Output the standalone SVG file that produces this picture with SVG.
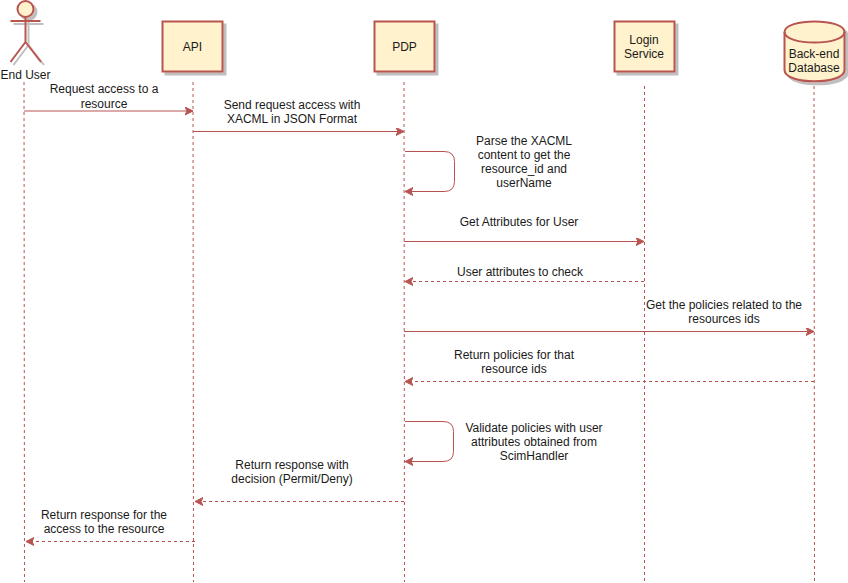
<svg xmlns="http://www.w3.org/2000/svg" width="848" height="583" viewBox="0 0 848 583">
<defs>
<marker id="ah" markerUnits="userSpaceOnUse" markerWidth="10" markerHeight="10" refX="8" refY="4" orient="auto"><path d="M0 0L8 4L0 8L2 4Z" fill="#b85450" stroke="#b85450"/></marker>
<filter id="sh" x="-10%" y="-10%" width="125%" height="125%"><feDropShadow dx="3" dy="3" stdDeviation="0.6" flood-color="#000" flood-opacity="0.25"/></filter>
</defs>
<style>
text{font-family:"Liberation Sans",Arial,sans-serif;font-size:12px;fill:#1a1a1a;text-anchor:middle}
.box{fill:#fff2cc;stroke:#b85450;stroke-width:2}
.life{fill:none;stroke:#b85450;stroke-width:1;stroke-dasharray:3 3}
.m{fill:none;stroke:#b85450;stroke-width:1;marker-end:url(#ah)}
.d{stroke-dasharray:3 3}
</style>
<rect width="848" height="583" fill="#fff"/>
<g id="connectors">
<path class="life" d="M24 82L24.500 582"/><path class="life" d="M193 82L193.500 582"/><path class="life" d="M404 82L404.500 582"/><path class="life" d="M644.500 86V582"/><path class="life" d="M814 86L814.500 582"/>
<path class="m" d="M24 111H193"/>
<path class="m" d="M193 131.500H404"/>
<path class="m" d="M405 151.500H444Q454.500 151.500 454.500 161.500V181.500Q454.500 191.500 444 191.500H405"/>
<path class="m" d="M404 241.500H644"/>
<path class="m d" d="M644 281.500H405"/>
<path class="m" d="M404 331.500H814"/>
<path class="m d" d="M814 381.500H405"/>
<path class="m" d="M405 421.500H443Q453.500 421.500 453.500 431.500V451.500Q453.500 461.500 443 461.500H405"/>
<path class="m d" d="M404 501.500H195"/>
<path class="m d" d="M195 541.500H26"/>
</g>
<g id="end-user">
<g filter="url(#sh)" fill="none" stroke="#b85450" stroke-width="2">
<circle cx="25.500" cy="9" r="8" fill="#fff2cc"/>
<path d="M25.500 17V42M10.500 21H40.500M25.500 42L10.500 62M25.500 42L41 62"/>
</g>
<text x="25.500" y="79">End User</text>
</g>
<g id="api"><rect class="box" x="162.500" y="21.500" width="60" height="50" filter="url(#sh)"/><text x="192.500" y="51">API</text></g>
<g id="pdp"><rect class="box" x="374.500" y="21.500" width="60" height="50" filter="url(#sh)"/><text x="404.500" y="51">PDP</text></g>
<g id="login-service"><rect class="box" x="614.500" y="21.500" width="60" height="50" filter="url(#sh)"/><text x="644" y="44">Login</text><text x="644" y="58">Service</text></g>
<g id="database">
<path class="box" d="M784.500 32C784.500 18 844.500 18 844.500 32V70C844.500 85 784.500 85 784.500 70Z" filter="url(#sh)"/>
<path d="M784.500 32C784.500 46 844.500 46 844.500 32" fill="none" stroke="#b85450" stroke-width="2"/>
<text x="814" y="58">Back-end</text><text x="814" y="72">Database</text>
</g>
<g id="labels">
<text x="104" y="93">Request access to a</text><text x="104" y="108">resource</text>
<text x="292" y="109">Send request access with</text><text x="292" y="123">XACML in JSON Format</text>
<text x="524" y="145">Parse the XACML</text><text x="524" y="159">content to get the</text><text x="524" y="173">resource_id and</text><text x="524" y="187">userName</text>
<text x="519" y="226">Get Attributes for User</text>
<text x="520" y="276">User attributes to check</text>
<text x="724" y="309">Get the policies related to the</text><text x="724" y="323">resources ids</text>
<text x="514" y="359">Return policies for that</text><text x="514" y="373">resource ids</text>
<text x="534" y="432">Validate policies with user</text><text x="534" y="446">attributes obtained from</text><text x="534" y="460">ScimHandler</text>
<text x="292" y="469">Return response with</text><text x="292" y="483">decision (Permit/Deny)</text>
<text x="104" y="519">Return response for the</text><text x="104" y="533">access to the resource</text>
</g>
</svg>
